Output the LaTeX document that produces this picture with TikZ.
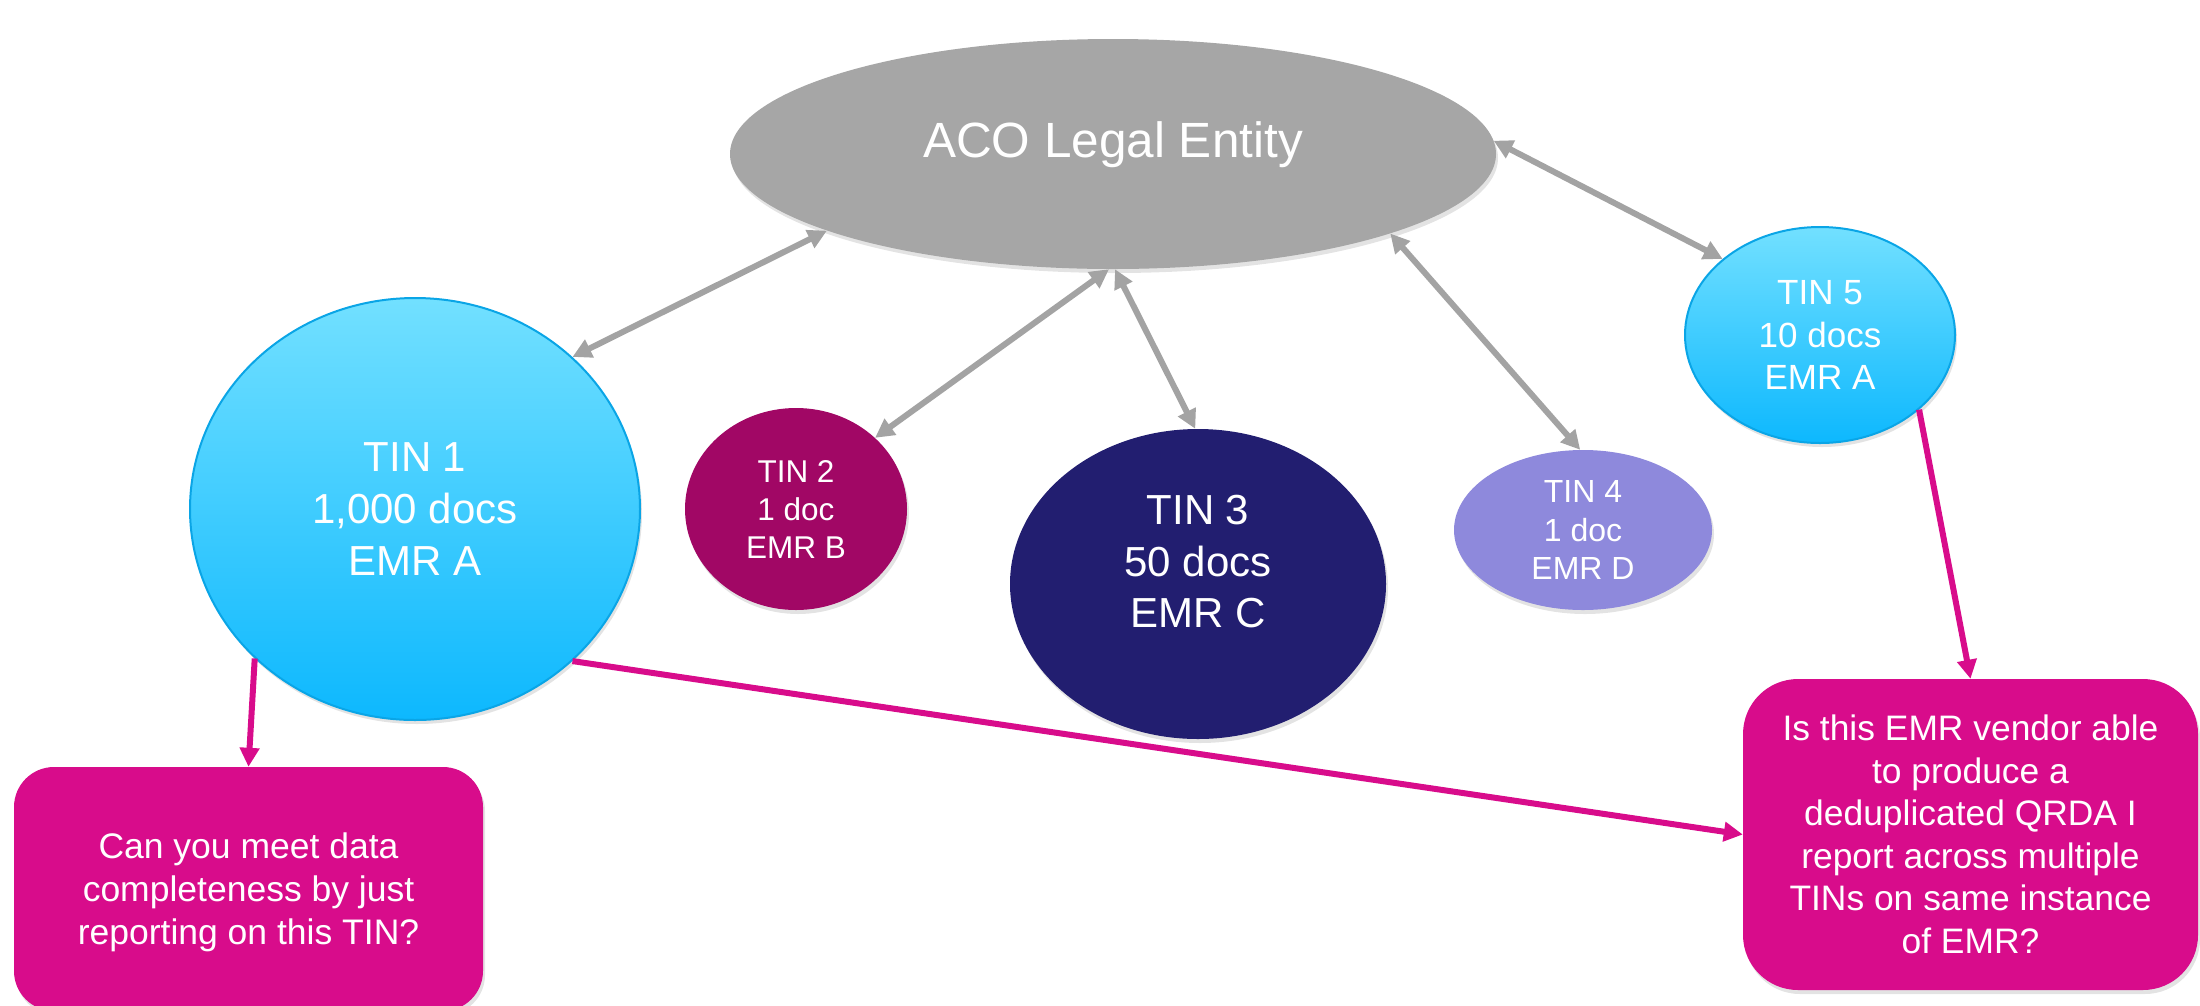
\documentclass[tikz,border=0pt]{standalone}
\usepackage{fontspec}
\setmainfont{Liberation Sans}
\usetikzlibrary{arrows.meta,shapes.geometric,shadows}
\definecolor{acogray}{HTML}{A6A6A6}
\definecolor{argray}{HTML}{A3A3A3}
\definecolor{cyantop}{HTML}{72E0FF}
\definecolor{cyanbot}{HTML}{0DB8FE}
\definecolor{cyanline}{HTML}{0AA5E6}
\definecolor{tintwo}{HTML}{A10765}
\definecolor{tinthree}{HTML}{221E70}
\definecolor{tinfour}{HTML}{8E89DC}
\definecolor{qmag}{HTML}{D80C8B}
\begin{document}
\begin{tikzpicture}[x=1pt,y=-1pt,
  tin/.style={ellipse, inner sep=0pt, text=white, align=center,
    drop shadow={opacity=0.22, shadow xshift=2pt, shadow yshift=-4pt}},
  cyanfill/.style={top color=cyantop, bottom color=cyanbot, draw=cyanline, line width=2pt},
  lbl/.style={text=white, align=center, inner sep=0pt},
  qbox/.style={rectangle, fill=qmag, text=white, align=center, inner sep=0pt,
    drop shadow={opacity=0.22, shadow xshift=2pt, shadow yshift=-4pt}},
  dbl/.style={draw=argray, line width=6pt,
    {Triangle[length=19pt,width=19pt]}-{Triangle[length=19pt,width=19pt]}},
  pk/.style={draw=qmag, line width=6pt, -{Triangle[length=19pt,width=19pt]}}]
\useasboundingbox (0,0) rectangle (2200,1005);

% nodes
\node[tin, fill=acogray, minimum width=766pt, minimum height=230pt] (aco) at (1113,154) {};
\node[lbl, font=\fontsize{49.5}{59}\selectfont] (acot) at ([yshift=9pt]aco.center) {ACO Legal Entity};

\node[tin, cyanfill, minimum width=450pt, minimum height=422pt,
  font=\fontsize{42}{52}\selectfont] (t1) at (415,509) {TIN 1\\1,000 docs\\EMR A};

\node[tin, fill=tintwo, minimum width=222pt, minimum height=202pt,
  font=\fontsize{31.5}{38}\selectfont] (t2) at (796,509) {TIN 2\\1 doc\\EMR B};

\node[tin, fill=tinthree, minimum width=376pt, minimum height=310pt] (t3) at (1198,584) {};
\node[lbl, font=\fontsize{42}{51.5}\selectfont] (t3t) at ([yshift=22pt]t3.center) {TIN 3\\50 docs\\EMR C};

\node[tin, fill=tinfour, minimum width=258pt, minimum height=160pt,
  font=\fontsize{32}{38.5}\selectfont] (t4) at (1583,530) {TIN 4\\1 doc\\EMR D};

\node[tin, cyanfill, minimum width=270pt, minimum height=216pt,
  font=\fontsize{35}{42.5}\selectfont] (t5) at (1820,335) {TIN 5\\10 docs\\EMR A};

\node[qbox, rounded corners=40pt, minimum width=469pt, minimum height=244pt] (b1) at (248.5,889) {};
\node[lbl, font=\fontsize{35.5}{43}\selectfont] (b1t) at ([yshift=-3pt]b1.center)
  {Can you meet data\\completeness by just\\reporting on this TIN?};

\node[qbox, rounded corners=55pt, minimum width=455pt, minimum height=311pt,
  font=\fontsize{35.4}{42.5}\selectfont] (b2) at (1970.5,834.5)
  {Is this EMR vendor able\\to produce a\\deduplicated QRDA I\\report across multiple\\TINs on same instance\\of EMR?};

% gray double-headed connectors
\draw[dbl] (aco.195) -- (t1.44);
\draw[dbl] (aco.268) -- (t2.42);
\draw[dbl] (aco.271) -- (t3.91);
\draw[dbl] (aco.344) -- (t4.92);
\draw[dbl] (aco.2) -- (t5.142);

% magenta connectors
\draw[pk] (t1.223) -- (b1.north);
\draw[pk] (t1.316) -- (b2.west);
\draw[pk] (t5.323) -- (b2.north);
\end{tikzpicture}
\end{document}
